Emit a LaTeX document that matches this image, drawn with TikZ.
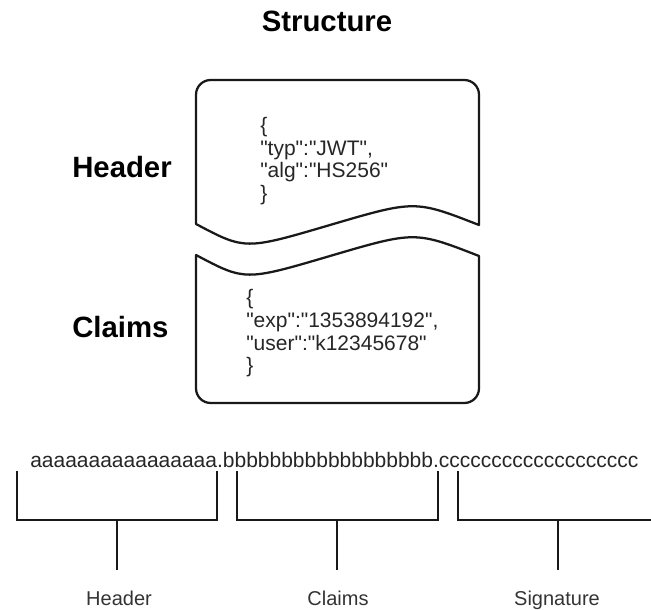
\documentclass[tikz,border=0pt]{standalone}
\usepackage{fontspec}
\setmainfont{Liberation Sans}[Ligatures=TeXOff]
\begin{document}
\begin{tikzpicture}[x=0.75pt,y=-0.75pt,
  outline/.style={line width=1.7pt,line join=round,black!90},
  bracket/.style={line width=1.8pt,line join=miter,black!90},
  title/.style={font=\fontsize{22}{24}\selectfont\bfseries,inner sep=0pt,anchor=base},
  sidelabel/.style={font=\fontsize{22}{24}\selectfont\bfseries,inner sep=0pt,anchor=base west},
  codeline/.style={font=\fontsize{15.75}{17}\selectfont,inner sep=0pt,anchor=base west,text=black!85},
  token/.style={font=\fontsize{15.75}{17}\selectfont,inner sep=0pt,anchor=base west,text=black!85},
  partlabel/.style={font=\fontsize{15}{17}\selectfont,inner sep=0pt,anchor=base,text=black!80}]
\useasboundingbox (0,0) rectangle (651,610);

% title
\node[title] (title) at (327,32) {Structure};

% header block: flat top with rounded corners, wavy bottom
\draw[outline] (479,225) -- (479,130) [rounded corners=11pt] -- (479,80) -- (196,80) -- (196,130)
  [sharp corners] -- (196,224)
  .. controls (245,250) .. (330,225)
  .. controls (415,200) .. (479,225) -- cycle;

% claims block: wavy top, flat bottom with rounded corners
\draw[outline] (196,255)
  .. controls (245,281) .. (330,256)
  .. controls (415,231) .. (479,256)
  -- (479,350) [rounded corners=11pt] -- (479,403) -- (196,403) -- (196,350)
  [sharp corners] -- cycle;

% side labels
\node[sidelabel] (hlabel) at (72,178) {Header};
\node[sidelabel] (clabel) at (72,337) {Claims};

% header JSON
\node[codeline] (h1) at (260,133) {\{};
\node[codeline] (h2) at (260,155.5) {"typ":"JWT",};
\node[codeline] (h3) at (260,178) {"alg":"HS256"};
\node[codeline] (h4) at (260,200.5) {\}};

% claims JSON
\node[codeline] (c1) at (246,305) {\{};
\node[codeline] (c2) at (246,327.5) {"exp":"1353894192",};
\node[codeline] (c3) at (246,350) {"user":"k12345678"};
\node[codeline] (c4) at (246,372.5) {\}};

% encoded token
\node[token] (tok) at (30,467) {aaaaaaaaaaaaaaaa.bbbbbbbbbbbbbbbbbb.ccccccccccccccccccc};

% brackets under the three parts
\coordinate (b1) at (117,570);
\coordinate (b2) at (337,570);
\coordinate (b3) at (558,570);
\draw[bracket] (17,471) -- (17,520) -- (217,520) -- (217,471);
\draw[bracket] (117,520) -- (b1);
\draw[bracket] (237,471) -- (237,520) -- (438,520) -- (438,471);
\draw[bracket] (337,520) -- (b2);
\draw[bracket] (458,471) -- (458,520) -- (660,520);
\draw[bracket] (558,520) -- (b3);

% part names
\node[partlabel] (p1) at (119,605) {Header};
\node[partlabel] (p2) at (338,605) {Claims};
\node[partlabel] (p3) at (557,605) {Signature};
\end{tikzpicture}
\end{document}
